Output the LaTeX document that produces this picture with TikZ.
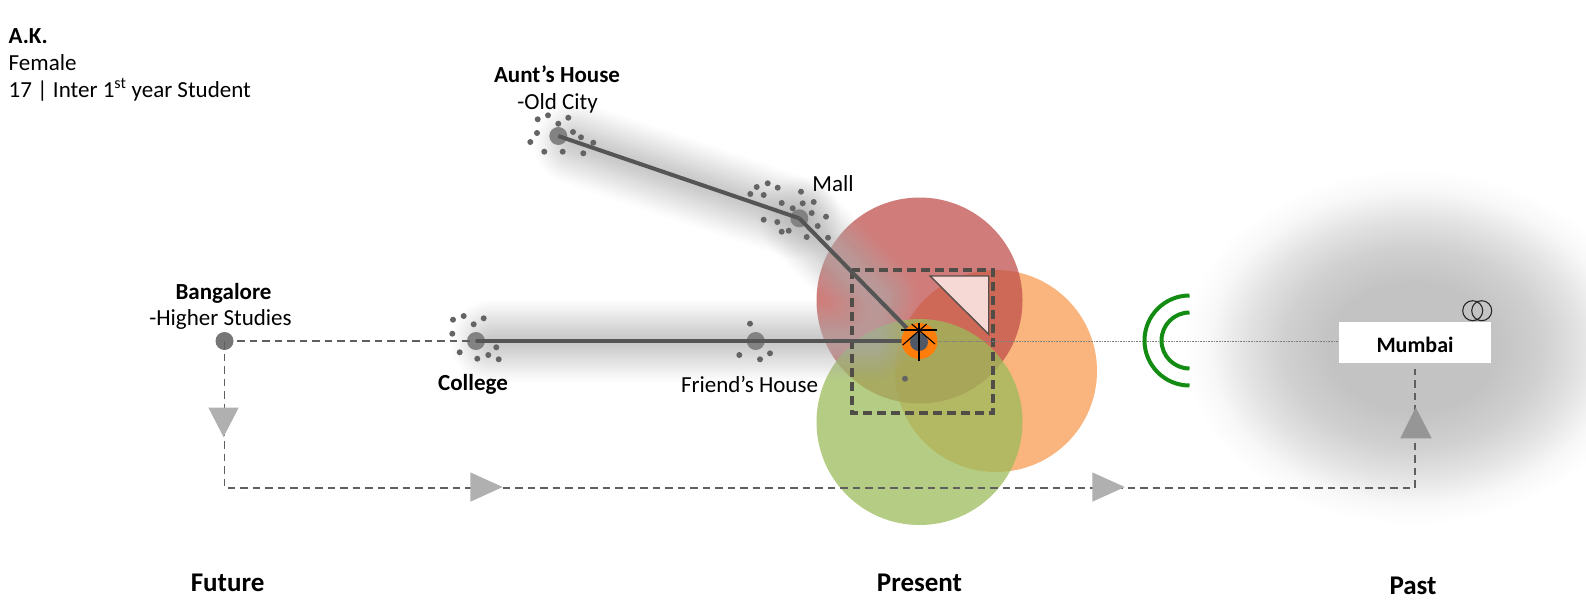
\documentclass[tikz,border=0pt]{standalone}
\usepackage{fontspec}
\setmainfont{Carlito}
\definecolor{redc}{RGB}{192,80,77}
\definecolor{greenc}{RGB}{155,187,89}
\definecolor{orangec}{RGB}{247,150,70}
\definecolor{roadc}{RGB}{85,85,85}
\definecolor{placec}{RGB}{130,130,130}
\definecolor{bangc}{RGB}{118,118,118}
\definecolor{dotc}{RGB}{100,100,100}
\definecolor{dashc}{RGB}{80,76,72}
\definecolor{trailc}{RGB}{95,95,95}
\definecolor{shadowc}{RGB}{178,178,178}
\definecolor{blobc}{RGB}{195,195,195}
\definecolor{wedgefill}{RGB}{246,216,212}
\definecolor{wedgeline}{RGB}{90,78,74}
\definecolor{selforange}{RGB}{255,125,10}
\definecolor{selfgray}{RGB}{80,88,102}
\definecolor{arcgreen}{RGB}{20,140,20}
\definecolor{tria}{RGB}{176,176,176}
\definecolor{trib}{RGB}{150,150,150}
\pgfdeclareradialshading{blobshade}{\pgfpointorigin}{%
  color(0bp)=(blobc);color(9bp)=(blobc);color(14bp)=(blobc!78!white);
  color(18bp)=(blobc!48!white);color(22bp)=(blobc!12!white);color(25bp)=(white);color(50bp)=(white)}
\tikzset{
  lbl/.style={font=\fontsize{23}{27}\selectfont,inner sep=0pt,text=black},
  blbl/.style={lbl,font=\fontsize{23}{27}\selectfont\bfseries},
  axis label/.style={lbl,font=\fontsize{27}{32}\selectfont\bfseries},
  place/.style={circle,fill=placec,minimum size=18pt,inner sep=0pt},
  road/.style={draw=roadc,line width=4pt},
  trail/.style={draw=trailc,line width=1.7pt,dash pattern=on 7.5pt off 5pt},
  zonecircle/.style={circle,minimum size=#1,inner sep=0pt},
  marker/.style={fill=#1,draw=none},
  star/.style={draw=black,line width=1.1pt},
  halo/.style={draw=shadowc,line cap=round,opacity=0.04},
}
\newcommand{\dotset}[1]{\foreach \dx/\dy in {#1}{\fill[dotc] (\dx,\dy) circle (3pt);}}
\newcommand{\softline}[2]{\foreach \hw in {2,4,...,36,39,42,45,48,51,54,57,60,64,68,72,76,82}{\draw[halo,line width=\hw pt] (#1) -- (#2);}}
\begin{document}
\begin{tikzpicture}[x=1pt,y=-1pt]
\useasboundingbox (0,0) rectangle (1586,614);
% Mumbai glow
\begin{scope}
\clip (0,0) rectangle (1586,614);
\shade[shading=blobshade] (1182,169) rectangle (1644,525);
\end{scope}
% zones
\node[zonecircle=202pt,fill=orangec,fill opacity=.7] (zoneO) at (996,371) {};
\node[zonecircle=206pt,fill=redc,fill opacity=.75] (zoneR) at (919.5,300.5) {};
\node[zonecircle=206pt,fill=greenc,fill opacity=.75] (zoneG) at (919.5,422) {};
% anchor places
\coordinate (aunt) at (558.3,136);
\coordinate (mall) at (799.3,218.3);
\coordinate (college) at (476,341);
\coordinate (friend) at (755.7,341);
\coordinate (bang) at (224.5,341);
\coordinate (self) at (919.5,341);
\coordinate (haloH) at (872,341);
\coordinate (haloD) at (878,298);
\coordinate (haloA) at (575,143);
\coordinate (haloC) at (492,341);
% soft shadows
\softline{haloA}{mall}
\softline{haloC}{haloH}
\softline{mall}{haloD}
% box + triangle
\draw[dashc,line width=3.8pt,dash pattern=on 9pt off 5pt] (852,270) rectangle (993.3,412.7);
\draw[fill=wedgefill,draw=wedgeline,line width=1.4pt] (930,276) -- (988.7,276) -- (988.7,334.3) -- cycle;
% thin line to Mumbai
\node[fill=white,minimum width=152pt,minimum height=41pt,inner sep=0pt] (mumbaibox) at (1414.7,342.8) {};
\draw[gray,line width=.6pt,densely dotted] (self) -- (mumbaibox.west |- self);
% places
\node[place] (auntN) at (aunt) {};
\node[place] (mallN) at (mall) {};
\node[place] (collegeN) at (college) {};
\node[place] (friendN) at (friend) {};
\draw[trail] (bang) -- (college);
\node[place,fill=bangc] (bangN) at (bang) {};
% roads
\draw[road] (aunt) -- (mall);
\draw[road] (mall) -- (self);
\draw[road] (college) -- (friend);
\draw[road] (friend) -- (self);
% dots
\dotset{537.7/119.3,548/115.3,568.3/117.7,558.3/123.7,537/133,530.3/142,544.3/151.7,562.7/151.7,583.3/153.3,573/132,581/137.3,593.3/142.7}
\dotset{756.7/187,767.7/183.3,777.7/187.7,750.3/194,763.7/195,781.7/203,801/191.7,802.7/203.3,813.7/202,792.7/208.3,811.7/213,826/216.7,817.7/226,828/237.7,806.7/237,788.7/230.7,781.7/231.7,777.3/222,763.7/219.7}
\dotset{453/319.7,463.7/316,483.7/318.3,473.7/324.3,452.3/333.7,459.7/352.3,477.3/358.7,488.3/355,498.7/359.3,496.3/347.3}
\dotset{750/323.7,739.3/355,760/359.3,770/353.3}
\fill[dotc] (905,378.7) circle (3pt);
% self marker
\node[circle,fill=selforange,minimum size=36pt,inner sep=0pt] (selfO) at (self) {};
\node[circle,fill=selfgray,minimum size=18pt,inner sep=0pt] (selfG) at (919,342) {};
\draw[star] (901,330) -- (936.7,330);
\draw[star] (919,322.7) -- (919,360.7);
\draw[star] (911.7,324) -- (935,344);
\draw[star] (926.7,324) -- (902.7,345);
% trails
\coordinate (c1) at (224.5,488);
\coordinate (c2) at (1414.7,488);
\draw[trail] (bang) -- (c1) -- (c2) -- ([yshift=-5pt]mumbaibox.south -| c2);
% triangles
\fill[marker=tria] (208.4,407.6) -- (238.7,407.6) -- (223.5,437) -- cycle;
\fill[marker=tria] (470.4,472.4) -- (470.4,501.7) -- (502.7,487) -- cycle;
\fill[marker=tria] (1092.4,472.4) -- (1092.4,501.7) -- (1124.8,487) -- cycle;
\fill[marker=trib] (1400.3,438.3) -- (1431.7,438.3) -- (1415.7,407.3) -- cycle;
% arcs
\draw[arcgreen,line width=4pt] (1189.5,295.5) arc[start angle=90,end angle=270,radius=45pt];
\draw[arcgreen,line width=4pt] (1189.5,312.5) arc[start angle=90,end angle=270,radius=28pt];
% venn
\draw[line width=1.1pt,black!85] (1472.7,310.7) circle (10pt) (1481.7,310.7) circle (10pt);
% labels
\node[blbl,anchor=west] (akT) at (8.5,36) {A.K.};
\node[lbl,anchor=west] (femT) at (8.5,62.5) {Female};
\node[lbl,anchor=west] (ageT) at (8.5,90) {17 | Inter 1\textsuperscript{st} year Student};
\node[blbl] (auntT) at (557,74.5) {Aunt’s House};
\node[lbl] (oldT) at (557.5,103) {-Old City};
\node[lbl] (mallT) at (833,183.5) {Mall};
\node[blbl] (bangT) at (223.5,293.5) {Bangalore};
\node[lbl] (highT) at (220.5,319.5) {-Higher Studies};
\node[blbl] (colT) at (473,384.5) {College};
\node[lbl] (friT) at (749.5,384.5) {Friend’s House};
\node[blbl,font=\fontsize{22}{26}\selectfont\bfseries] (mumT) at (1415,344.5) {Mumbai};
\node[axis label] (futT) at (227.6,583) {Future};
\node[axis label] (preT) at (919.5,583) {Present};
\node[axis label] (pasT) at (1413,586) {Past};
\end{tikzpicture}
\end{document}
